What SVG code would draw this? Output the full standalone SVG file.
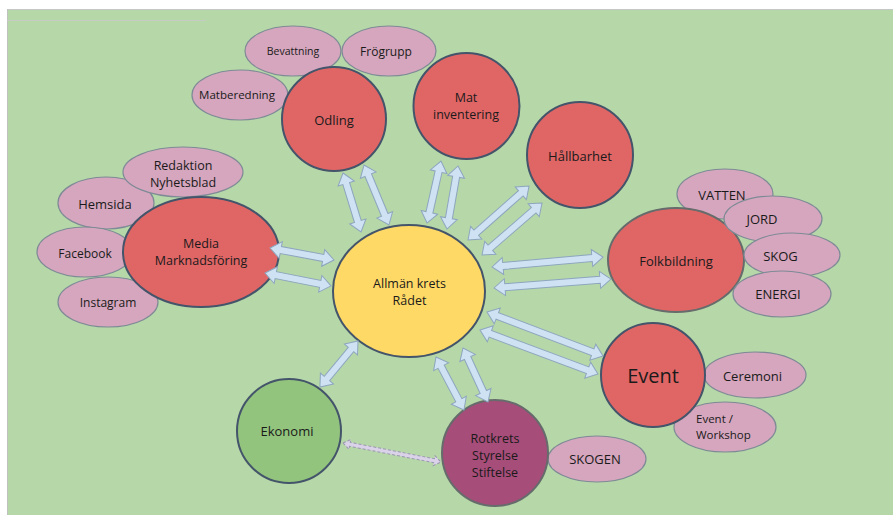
<svg xmlns="http://www.w3.org/2000/svg" width="893" height="515" viewBox="0 0 893 515">
<style>
text{font-family:"Open Sans","Noto Sans","DejaVu Sans",sans-serif;font-size:13px;fill:#1a1a1a;text-anchor:middle}
.ml{font-size:12.5px}
.red{fill:#E06666;stroke:#44546A;stroke-width:2}
.redg{fill:#E06666;stroke:#666B6B;stroke-width:2}
.pink{fill:#D5A6BD;stroke:#7E8A96;stroke-width:1.2}
.arr{fill:#CFE2F3;stroke:#8DA6BE;stroke-width:1}
.dash{fill:#D9D2E9;stroke:#9C98AE;stroke-width:1;stroke-dasharray:3 2}
</style>
<rect x="0" y="0" width="893" height="515" fill="#ffffff"/>
<rect x="7" y="9" width="886" height="506" fill="#B6D7A8"/>
<line x1="7" y1="9.5" x2="893" y2="9.5" stroke="#C4C8C4" stroke-width="1"/>
<line x1="7.5" y1="9" x2="7.5" y2="515" stroke="#BFC3BF" stroke-width="1"/>
<line x1="7" y1="20.5" x2="206" y2="20.5" stroke="#C6CCC4" stroke-width="1"/>

<g id="hemsida"><ellipse class="pink" cx="106" cy="203" rx="48" ry="26"/><text x="105" y="208.5">Hemsida</text></g>
<g id="facebook"><ellipse class="pink" cx="85" cy="252" rx="48" ry="25"/><text x="85" y="257.5" style="font-size:12px">Facebook</text></g>
<g id="instagram"><ellipse class="pink" cx="108" cy="302" rx="50" ry="25"/><text x="108" y="307" style="font-size:12px">Instagram</text></g>
<g id="redaktion"><ellipse class="pink" cx="183" cy="172" rx="60" ry="25"/><text class="ml" x="183" y="169.5">Redaktion</text><text class="ml" x="183" y="186.5">Nyhetsblad</text></g>
<g id="media"><ellipse class="red" cx="201" cy="252" rx="78" ry="55"/><text class="ml" x="201" y="247.5">Media</text><text class="ml" x="201" y="264.5">Marknadsföring</text></g>

<g id="bevattning"><ellipse class="pink" cx="293" cy="51" rx="48" ry="25"/><text x="293" y="54.5" style="font-size:10.5px">Bevattning</text></g>
<g id="frogrupp"><ellipse class="pink" cx="389" cy="51" rx="47" ry="25"/><text x="386" y="56" style="font-size:12px">Frögrupp</text></g>
<g id="matberedning"><ellipse class="pink" cx="240" cy="95" rx="48" ry="25"/><text x="237" y="99" style="font-size:11.5px">Matberedning</text></g>
<g id="odling"><circle class="red" cx="334" cy="119" r="52"/><text x="334" y="124.5">Odling</text></g>

<g id="matinventering"><circle class="red" cx="466.5" cy="106" r="53"/><text class="ml" x="466" y="101.5">Mat</text><text class="ml" x="466" y="118.5">inventering</text></g>
<g id="hallbarhet"><circle class="red" cx="580" cy="155" r="53"/><text x="580" y="160.5">Hållbarhet</text></g>

<g id="vatten"><ellipse class="pink" cx="725" cy="194" rx="48" ry="25"/><text x="722" y="199.5">VATTEN</text></g>
<g id="folkbildning"><ellipse class="redg" cx="676" cy="260" rx="68" ry="52"/><text x="676" y="265.5">Folkbildning</text></g>
<g id="jord"><ellipse class="pink" cx="773" cy="219" rx="49" ry="23"/><text x="762" y="223.5">JORD</text></g>
<g id="skog"><ellipse class="pink" cx="792" cy="255" rx="48" ry="22"/><text x="780.5" y="260.5">SKOG</text></g>
<g id="energi"><ellipse class="pink" cx="782" cy="294" rx="49" ry="23"/><text x="778" y="298.5">ENERGI</text></g>

<g id="ceremoni"><ellipse class="pink" cx="755" cy="375" rx="51" ry="23"/><text x="752.5" y="380.5">Ceremoni</text></g>
<g id="eventworkshop"><ellipse class="pink" cx="725" cy="427" rx="51" ry="25"/><text x="696" y="422.5" style="font-size:11.5px;text-anchor:start">Event /</text><text x="696" y="439" style="font-size:11.5px;text-anchor:start">Workshop</text></g>
<g id="event"><circle class="red" cx="653" cy="375" r="52"/><text x="653" y="383" style="font-size:20px">Event</text></g>

<g id="skogen"><ellipse class="pink" cx="597" cy="459" rx="49" ry="23"/><text x="595" y="463.5">SKOGEN</text></g>
<g id="rotkrets"><circle cx="495" cy="453" r="53" fill="#A64D79" stroke="#666B6B" stroke-width="2"/><text class="ml" x="495" y="442.5">Rotkrets</text><text class="ml" x="495" y="459.5">Styrelse</text><text class="ml" x="495" y="476.5">Stiftelse</text></g>
<g id="ekonomi"><circle cx="289" cy="431" r="52" fill="#93C47D" stroke="#44546A" stroke-width="2"/><text x="287" y="435.5">Ekonomi</text></g>

<g id="allman"><ellipse cx="409" cy="291" rx="76" ry="66" fill="#FFD966" stroke="#44546A" stroke-width="2"/><text class="ml" x="409.5" y="287.5">Allmän krets</text><text class="ml" x="409.5" y="304.5">Rådet</text></g>

<g id="connectors">
<polygon class="arr" transform="translate(270,248) rotate(10.6)" points="0,0 11,-8.5 11,-3.5 54.1,-3.5 54.1,-8.5 65.1,0 54.1,8.5 54.1,3.5 11,3.5 11,8.5"/>
<polygon class="arr" transform="translate(265,273) rotate(11.1)" points="0,0 11,-8.5 11,-3.5 56.3,-3.5 56.3,-8.5 67.3,0 56.3,8.5 56.3,3.5 11,3.5 11,8.5"/>
<polygon class="arr" transform="translate(343,173) rotate(73)" points="0,0 11,-8.5 11,-3.5 50.7,-3.5 50.7,-8.5 61.7,0 50.7,8.5 50.7,3.5 11,3.5 11,8.5"/>
<polygon class="arr" transform="translate(364,165) rotate(67.4)" points="0,0 11,-8.5 11,-3.5 54,-3.5 54,-8.5 65,0 54,8.5 54,3.5 11,3.5 11,8.5"/>
<polygon class="arr" transform="translate(441,161) rotate(102.7)" points="0,0 11,-8.5 11,-3.5 52.6,-3.5 52.6,-8.5 63.6,0 52.6,8.5 52.6,3.5 11,3.5 11,8.5"/>
<polygon class="arr" transform="translate(458,166) rotate(99.9)" points="0,0 11,-8.5 11,-3.5 53,-3.5 53,-8.5 64,0 53,8.5 53,3.5 11,3.5 11,8.5"/>
<polygon class="arr" transform="translate(468,240) rotate(-41.5)" points="0,0 11,-8.5 11,-3.5 70.5,-3.5 70.5,-8.5 81.5,0 70.5,8.5 70.5,3.5 11,3.5 11,8.5"/>
<polygon class="arr" transform="translate(482,255) rotate(-40.9)" points="0,0 11,-8.5 11,-3.5 68.4,-3.5 68.4,-8.5 79.4,0 68.4,8.5 68.4,3.5 11,3.5 11,8.5"/>
<polygon class="arr" transform="translate(492,267) rotate(-5.15)" points="0,0 11,-8.5 11,-3.5 100.4,-3.5 100.4,-8.5 111.4,0 100.4,8.5 100.4,3.5 11,3.5 11,8.5"/>
<polygon class="arr" transform="translate(494,288) rotate(-4.4)" points="0,0 11,-8.5 11,-3.5 106.3,-3.5 106.3,-8.5 117.3,0 106.3,8.5 106.3,3.5 11,3.5 11,8.5"/>
<polygon class="arr" transform="translate(487,312) rotate(20.8)" points="0,0 11,-8.5 11,-3.5 113.1,-3.5 113.1,-8.5 124.1,0 113.1,8.5 113.1,3.5 11,3.5 11,8.5"/>
<polygon class="arr" transform="translate(480,330) rotate(20.45)" points="0,0 11,-8.5 11,-3.5 114.9,-3.5 114.9,-8.5 125.9,0 114.9,8.5 114.9,3.5 11,3.5 11,8.5"/>
<polygon class="arr" transform="translate(358,341) rotate(129.6)" points="0,0 11,-8.5 11,-3.5 48.7,-3.5 48.7,-8.5 59.7,0 48.7,8.5 48.7,3.5 11,3.5 11,8.5"/>
<polygon class="arr" transform="translate(436,357) rotate(62.2)" points="0,0 11,-8.5 11,-3.5 48.9,-3.5 48.9,-8.5 59.9,0 48.9,8.5 48.9,3.5 11,3.5 11,8.5"/>
<polygon class="arr" transform="translate(463,348) rotate(65.2)" points="0,0 11,-8.5 11,-3.5 48.5,-3.5 48.5,-8.5 59.5,0 48.5,8.5 48.5,3.5 11,3.5 11,8.5"/>
<polygon class="dash" transform="translate(343,443) rotate(11)" points="0,0 7,-5 7,-2 92.8,-2 92.8,-5 99.8,0 92.8,5 92.8,2 7,2 7,5"/>
</g>
</svg>
